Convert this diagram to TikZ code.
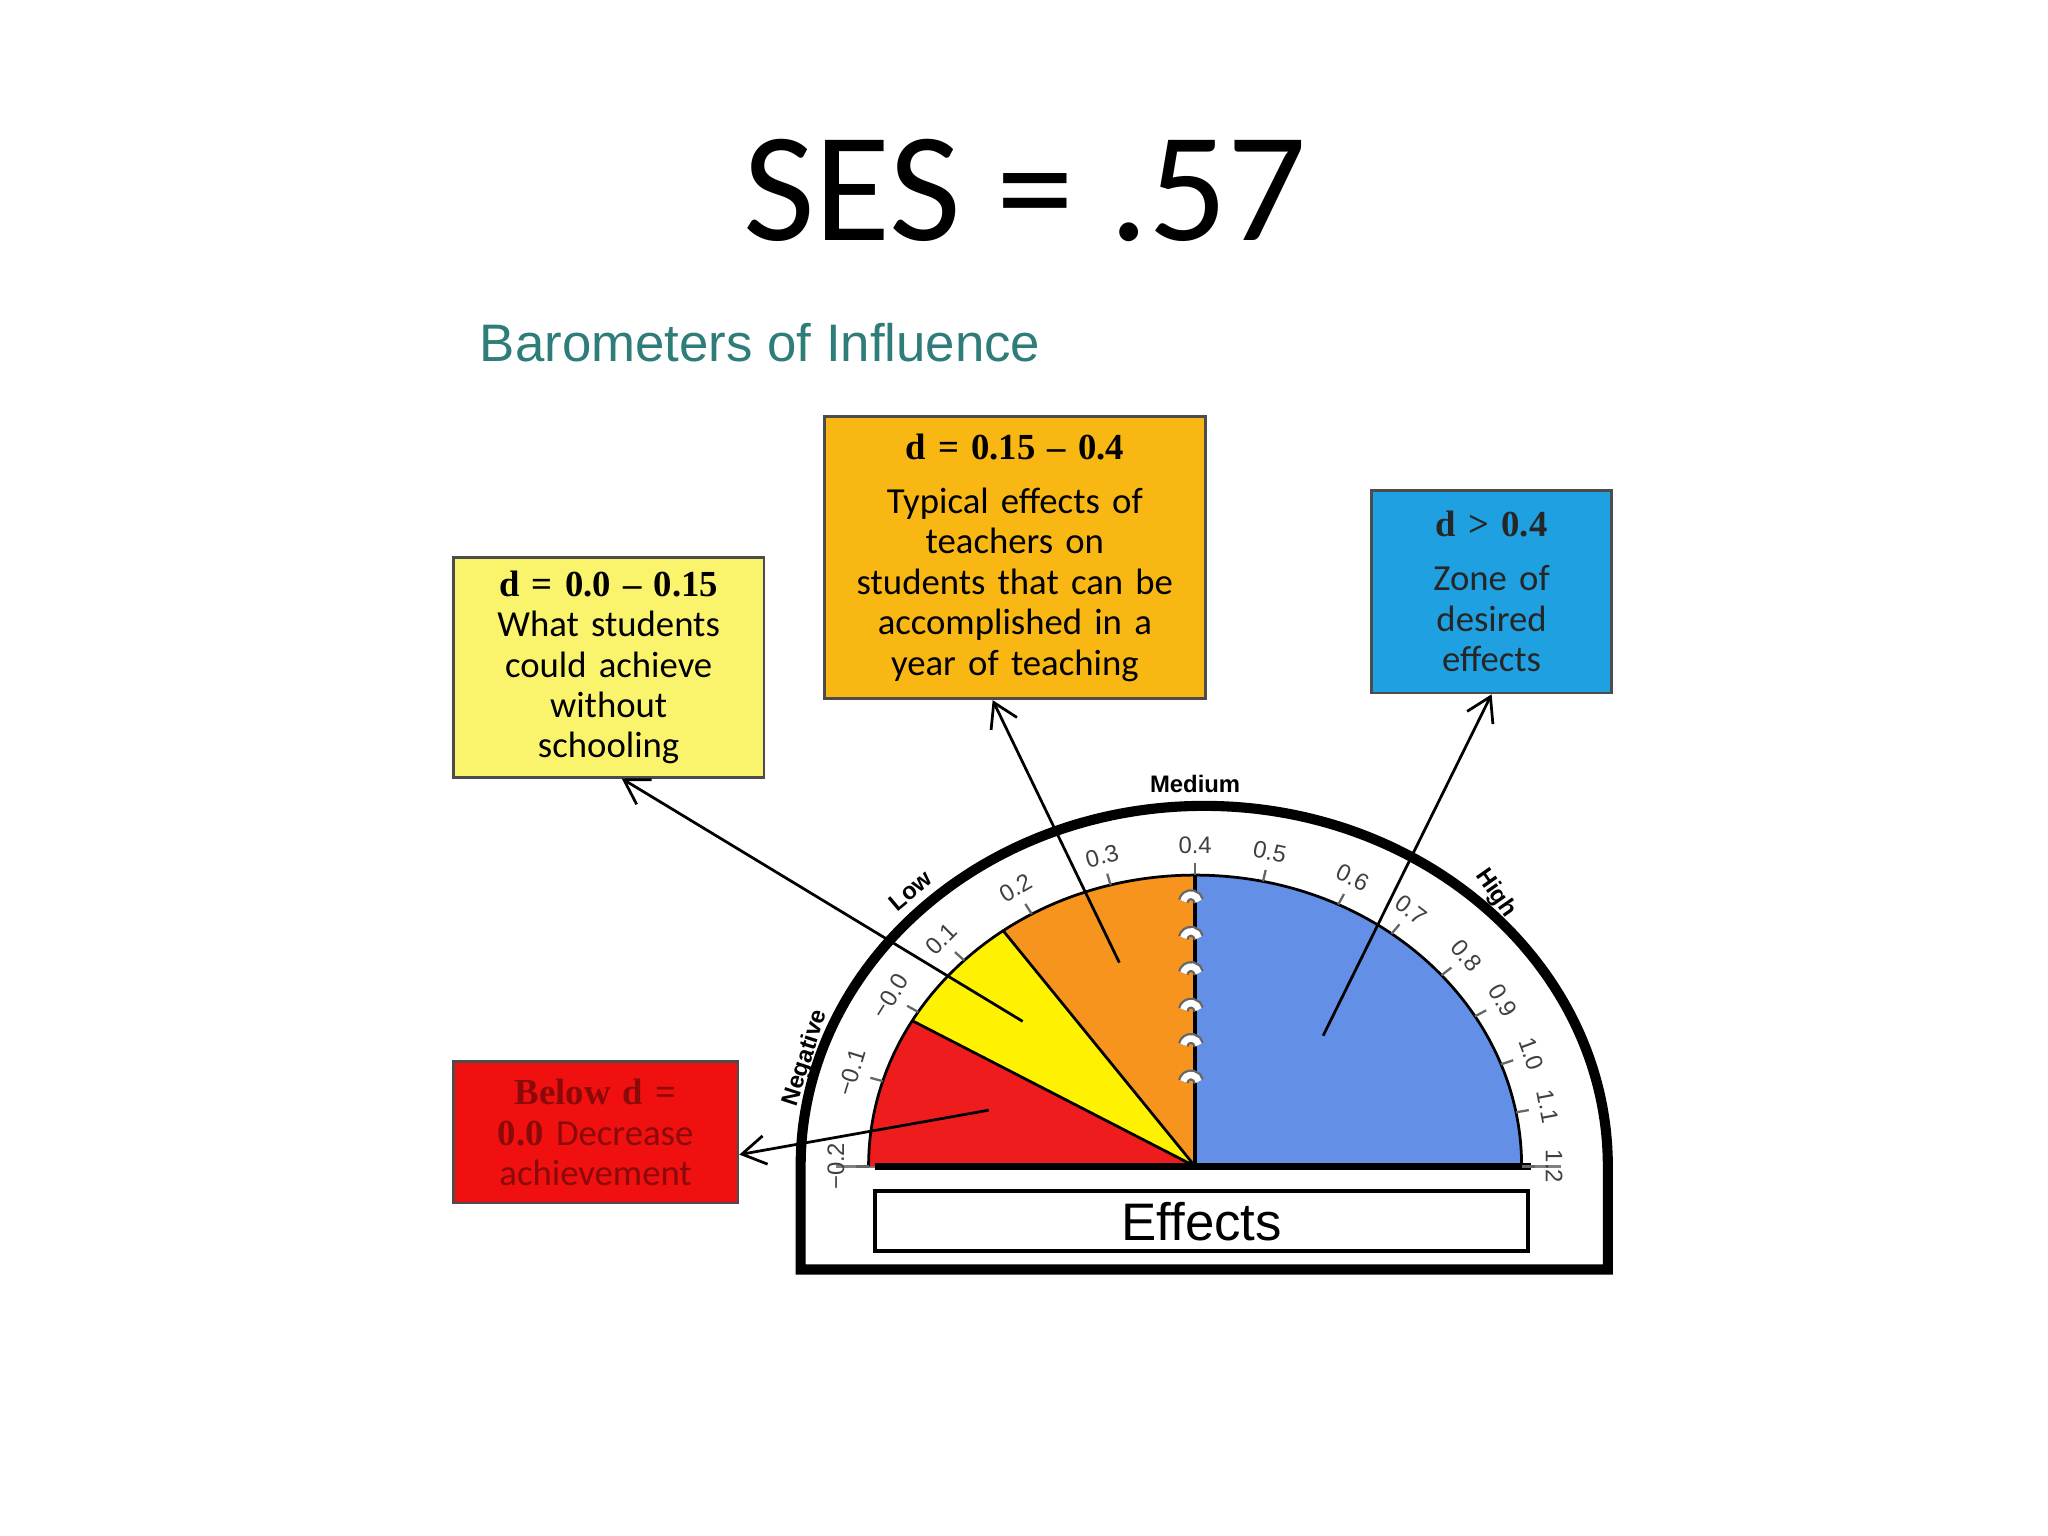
\documentclass[tikz,border=0pt]{standalone}
\usepackage{fontspec}
\setmainfont{Liberation Sans}
\newfontfamily\calfont{Carlito}
\newfontfamily\hdrfont{Liberation Serif}
\usetikzlibrary{arrows.meta,calc}
\definecolor{teal1}{HTML}{2E7D78}
\definecolor{secred}{HTML}{EE1C1C}
\definecolor{secyel}{HTML}{FFF200}
\definecolor{secora}{HTML}{F7941D}
\definecolor{secblu}{HTML}{6390E6}
\definecolor{boxyel}{HTML}{FAF46C}
\definecolor{boxora}{HTML}{F9B714}
\definecolor{boxblu}{HTML}{1FA0E0}
\definecolor{boxred}{HTML}{F01010}
\definecolor{darkred}{HTML}{8A0A0A}
\tikzset{
  infobox/.style={draw=black!70,line width=0.6pt,align=center,inner sep=0pt,font=\calfont\fontsize{8}{8.8}\selectfont},
  arr/.style={-{Straight Barb[length=1.8mm,width=2.2mm]},line width=0.6pt},
  ticklab/.style={font=\fontsize{5.2}{5.5}\selectfont,text=black!75,inner sep=0.5pt},
  rangelab/.style={font=\bfseries\fontsize{5.2}{6}\selectfont,inner sep=0.5pt}
}
\begin{document}
\begin{tikzpicture}[x=0.1mm,y=0.1mm]
\useasboundingbox (0,0) rectangle (1568,1176);
\node (title) at (785,1030) {\calfont\fontsize{34}{40}\selectfont SES = .57};
\node[anchor=west,text=teal1,font=\fontsize{11.5}{14}\selectfont] (baro) at (355,914) {Barometers of Influence};
% gauge frame
\coordinate (O) at (915,283);
\draw[line width=2.2pt,fill=white] (613,204) -- (613,283) arc[start angle=180,end angle=0,x radius=309,y radius=276] -- (1231,204) -- cycle;
\draw[black!50,line width=0.8pt] (640,283) -- (1195,283);
% sectors
\fill[secred] (O) -- ++(180:250 and 223) arc[start angle=180,end angle=150,x radius=250,y radius=223] -- cycle;
\fill[secyel] (O) -- ++(150:250 and 223) arc[start angle=150,end angle=126,x radius=250,y radius=223] -- cycle;
\fill[secora] (O) -- ++(126:250 and 223) arc[start angle=126,end angle=90,x radius=250,y radius=223] -- cycle;
\fill[secblu] (O) -- ++(90:250 and 223) arc[start angle=90,end angle=0,x radius=250,y radius=223] -- cycle;
\draw[line width=0.6pt] (O) -- ++(150:250 and 223) (O) -- ++(126:250 and 223);
\draw[line width=0.6pt] (O) ++(180:250 and 223) arc[start angle=180,end angle=0,x radius=250,y radius=223];
\draw[line width=1pt] (O) -- ++(90:250 and 223);
\draw[line width=1.6pt] (670,283) -- (1172,283);
% bumps
\foreach \yy in {486,458,431,403,376,348}{
  \draw[black!60,line width=2.4pt] (906,\yy) arc[start angle=170,end angle=10,radius=6];
  \draw[white,line width=1.4pt] (906,\yy) arc[start angle=170,end angle=10,radius=6];
}
% ticks
\foreach \v/\a in {−0.2/180,−0.1/163,−0.0/148,0.1/135,0.2/120,0.3/105,0.4/90,0.5/78,0.6/64,0.7/53,0.8/41,0.9/31,1.0/20.5,1.1/10.7,1.2/0}{
  \draw[black!60,line width=0.5pt] ($(O)+(\a:250 and 223)$) -- ($(O)+(\a:260 and 232)$);
  \node[ticklab,rotate=\a-90] at ($(O)+(\a:275 and 246)$) {\v};
}
\node[rangelab,rotate=72] (neg) at (617,366) {Negative};
\node[rangelab,rotate=40] (low) at (697,494) {Low};
\node[rangelab] (med) at (915,576) {Medium};
\node[rangelab,rotate=-55] (high) at (1145,492) {High};
% effects
\node[draw,line width=0.8pt,minimum width=50mm,minimum height=4.6mm,inner sep=0pt,font=\fontsize{11.5}{12}\selectfont] (eff) at (920,241) {Effects};
% boxes
\node[infobox,fill=boxyel,minimum width=23.8mm,minimum height=16.8mm,text width=23mm] (ybox) at (466,665)
 {{\hdrfont\bfseries\fontsize{8}{9}\selectfont d = 0.0 – 0.15}\\What students\\could achieve\\without\\schooling};
\node[infobox,fill=boxora,minimum width=29.2mm,minimum height=21.6mm,text width=28.5mm] (obox) at (777,749)
 {{\hdrfont\bfseries\fontsize{8}{9}\selectfont d = 0.15 – 0.4}\\[3pt]Typical effects of\\teachers on\\students that can be\\accomplished in a\\year of teaching};
\node[infobox,fill=boxblu,minimum width=18.4mm,minimum height=15.5mm,text width=18mm,text=black!85] (bbox) at (1142,723)
 {{\hdrfont\bfseries\fontsize{8}{9}\selectfont d > 0.4}\\[3pt]Zone of\\desired\\effects};
\node[infobox,fill=boxred,minimum width=21.8mm,minimum height=10.8mm,text width=21.5mm,text=darkred] (rbox) at (456,309)
 {{\hdrfont\bfseries Below d =}\\{\hdrfont\bfseries 0.0} Decrease\\achievement};
% arrows
\coordinate (ys) at (783,394);
\coordinate (os) at (857,439);
\coordinate (bs) at (1013,383);
\coordinate (rs) at (757,326);
\draw[arr] (ys) -- ([xshift=1mm]ybox.south);
\draw[arr] (os) -- ([xshift=-1.7mm]obox.south);
\draw[arr] (bs) -- (bbox.south);
\draw[arr] (rs) -- ([yshift=-1.7mm]rbox.east);
\end{tikzpicture}
\end{document}
